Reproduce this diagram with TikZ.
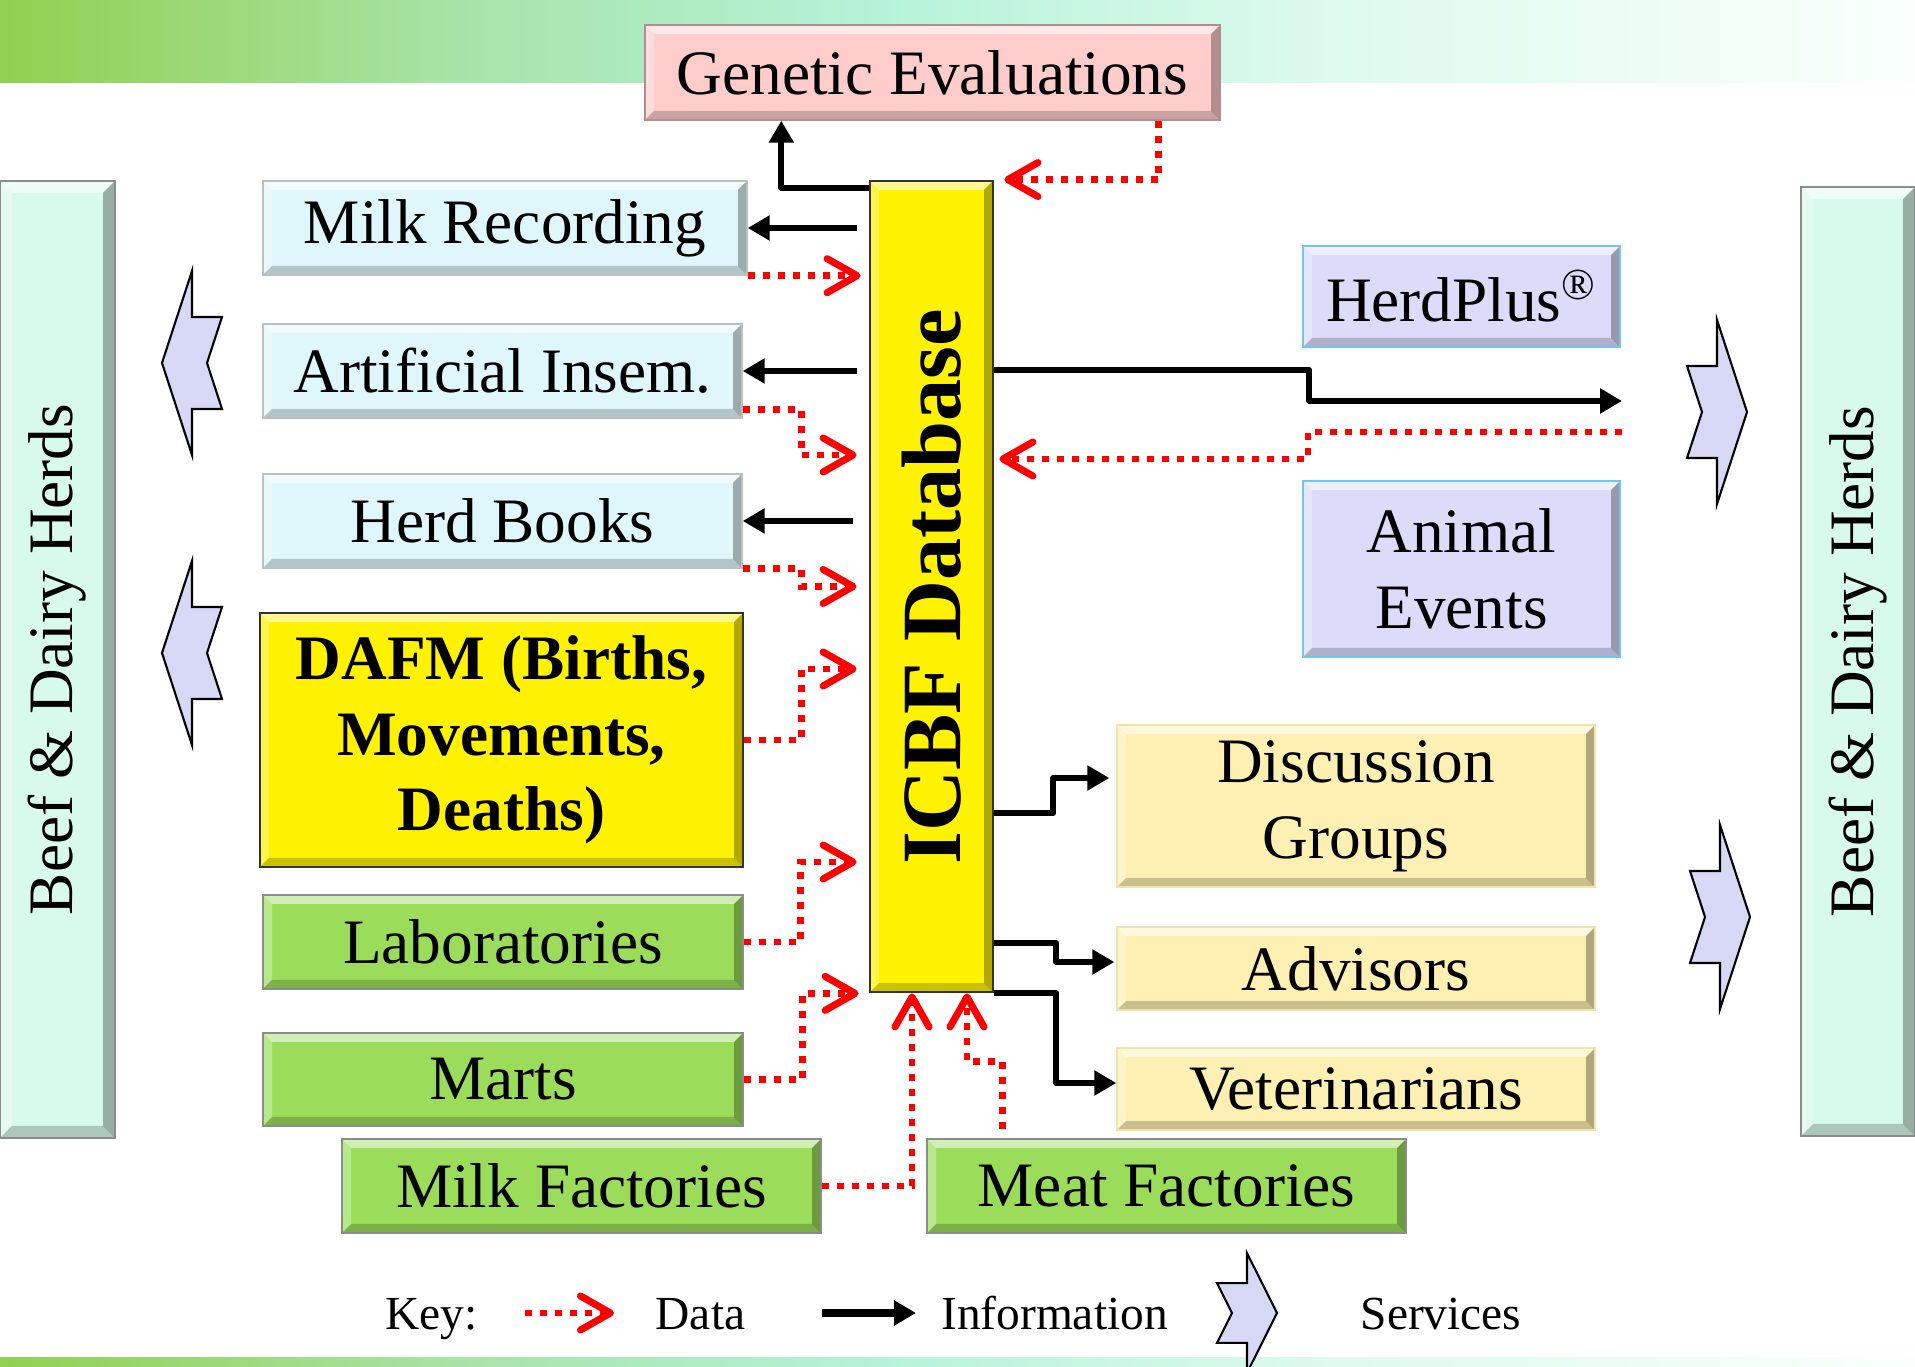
\documentclass[tikz,border=0pt]{standalone}
\usepackage{fontspec}
\setmainfont{Liberation Serif}
\usepackage{graphicx}
\usetikzlibrary{arrows.meta,positioning,calc}

\definecolor{cyanfill}{RGB}{223,247,251}
\definecolor{greenfill}{RGB}{155,221,90}
\definecolor{lavfill}{RGB}{220,220,250}
\definecolor{lavedge}{RGB}{110,200,235}
\definecolor{creamfill}{RGB}{253,240,178}
\definecolor{pinkfill}{RGB}{255,204,204}
\definecolor{herdfill}{RGB}{216,250,236}
\definecolor{chevfill}{RGB}{214,216,245}
\definecolor{bandgreen}{RGB}{146,208,80}
\definecolor{bandlight}{RGB}{168,228,170}
\definecolor{bandmint}{RGB}{180,242,216}
\definecolor{bandpale}{RGB}{222,250,236}
\definecolor{bandwhite}{RGB}{250,255,253}

% the path covers 25bp--75bp of the shading
\pgfdeclarehorizontalshading{band}{100bp}{color(0bp)=(bandgreen); color(25bp)=(bandgreen);
  color(37.5bp)=(bandlight); color(47.5bp)=(bandmint); color(60bp)=(bandpale);
  color(75bp)=(bandwhite); color(100bp)=(bandwhite)}

\tikzset{
  bevel/.style={path picture={
      \path (path picture bounding box.south west) coordinate (bvSW)
            (path picture bounding box.north east) coordinate (bvNE)
            (path picture bounding box.north west) coordinate (bvNW)
            (path picture bounding box.south east) coordinate (bvSE);
      \fill[white,opacity=0.55] (bvNW) -- (bvNE) -- ([shift={(-#1,-#1)}]bvNE) -- ([shift={(#1,-#1)}]bvNW) -- cycle;
      \fill[white,opacity=0.3] (bvNW) -- ([shift={(#1,-#1)}]bvNW) -- ([shift={(#1,#1)}]bvSW) -- (bvSW) -- cycle;
      \fill[black,opacity=0.2] (bvSW) -- (bvSE) -- ([shift={(-#1,#1)}]bvSE) -- ([shift={(#1,#1)}]bvSW) -- cycle;
      \fill[black,opacity=0.3] (bvSE) -- (bvNE) -- ([shift={(-#1,-#1)}]bvNE) -- ([shift={(-#1,#1)}]bvSE) -- cycle;
  }},
  bevel/.default=0.09,
  box/.style={rectangle, inner sep=0pt, align=center, font={\fontsize{18}{21.6}\selectfont}, bevel},
  cyanbox/.style={box, fill=cyanfill, draw=black!25},
  greenbox/.style={box, fill=greenfill, draw=black!45},
  yellowbox/.style={box, fill=yellow, draw=black!80, line width=0.8pt},
  lavbox/.style={box, fill=lavfill, draw=lavedge, line width=0.8pt},
  creambox/.style={box, fill=creamfill, draw=creamfill!95!black},
  pinkbox/.style={box, fill=pinkfill, draw=pinkfill!70!black},
  herdbox/.style={box, fill=herdfill, draw=black!45, bevel=0.12},
  info/.style={line width=0.06cm, line join=round, -{Triangle[length=0.22cm,width=0.24cm]}},
  data/.style={red, line width=0.065cm, dash pattern=on 0.07cm off 0.08cm,
    -{Straight Barb[length=0.3cm,width=0.34cm,line width=2pt,round]}},
  keytext/.style={font={\fontsize{13.5}{16}\selectfont}, anchor=base},
  chevron/.pic={
    \draw[fill=chevfill, line width=0.6pt]
      (0,0.92) -- (0.3,0) -- (0,-0.92) -- (0,-0.46) -- (-0.3,-0.46) -- (-0.15,0)
      -- (-0.3,0.46) -- (0,0.46) -- cycle;
  },
}

\begin{document}
\begin{tikzpicture}
    \useasboundingbox (0,0) rectangle (19.15,13.66);

    % bands
    \shade[shading=band] (0,12.83) rectangle (19.15,13.66);
    \shade[shading=band] (0,0) rectangle (19.15,0.09);

    % herds
    \node[herdbox, minimum width=1.15cm, minimum height=9.57cm] (herdsL) at (0.575,7.065) {\rotatebox{90}{Beef \& Dairy Herds}};
    \node[herdbox, minimum width=1.14cm, minimum height=9.49cm] (herdsR) at (18.58,7.045) {\rotatebox{90}{Beef \& Dairy Herds}};

    % services
    \pic[xscale=-1] at (1.92,10.03) {chevron};
    \pic[xscale=-1] at (1.92,7.13) {chevron};
    \pic at (17.17,9.54) {chevron};
    \pic at (17.20,4.49) {chevron};

    % database
    \node[yellowbox, minimum width=1.23cm, minimum height=8.11cm] (db) at (9.315,7.795)
        {\rotatebox{90}{\fontsize{24}{28}\selectfont\bfseries ICBF Database}};
    \node[pinkbox, minimum width=5.75cm, minimum height=0.95cm] (gen) at (9.325,12.935) {Genetic Evaluations};

    % sources
    \node[cyanbox, minimum width=4.84cm, minimum height=0.94cm] (milk) at (5.05,11.38) {Milk Recording};
    \node[cyanbox, minimum width=4.79cm, minimum height=0.94cm] (ai) at (5.025,9.95) {Artificial Insem.};
    \node[cyanbox, minimum width=4.79cm, minimum height=0.94cm] (hb) at (5.025,8.45) {Herd Books};
    \node[yellowbox, minimum width=4.83cm, minimum height=2.54cm, font={\fontsize{18}{21.4}\selectfont\bfseries}] (dafm) at (5.015,6.26)
        {DAFM (Births,\\Movements,\\Deaths)};
    \node[greenbox, minimum width=4.8cm, minimum height=0.94cm] (lab) at (5.03,4.24) {Laboratories};
    \node[greenbox, minimum width=4.8cm, minimum height=0.93cm] (marts) at (5.03,2.865) {Marts};
    \node[greenbox, minimum width=4.79cm, minimum height=0.94cm] (milkf) at (5.815,1.80) {Milk Factories};
    \node[greenbox, minimum width=4.79cm, minimum height=0.94cm] (meatf) at (11.665,1.80) {Meat Factories};

    % outputs
    \node[lavbox, minimum width=3.17cm, minimum height=1.01cm] (herdplus) at (14.615,10.695) {HerdPlus\textsuperscript{\textregistered}};
    \node[lavbox, minimum width=3.17cm, minimum height=1.76cm] (events) at (14.615,7.97) {Animal\\Events};
    \node[creambox, minimum width=4.78cm, minimum height=1.62cm] (disc) at (13.56,5.60) {Discussion\\Groups};
    \node[creambox, minimum width=4.78cm, minimum height=0.83cm] (adv) at (13.56,3.975) {Advisors};
    \node[creambox, minimum width=4.78cm, minimum height=0.82cm] (vet) at (13.56,2.77) {Veterinarians};

    \coordinate (toherds) at (16.22,9.65);
    \coordinate (fromherds) at (16.22,9.34);

    % information
    \draw[info] ([yshift=-0.08cm]db.north west) -| ([xshift=1.37cm]gen.south west);
    \draw[info] ($(milk.east -| db.west)+(-0.12,0)$) -- (milk.east);
    \draw[info] ($(ai.east -| db.west)+(-0.12,0)$) -- (ai.east);
    \draw[info] ($(hb.east -| db.west)+(-0.16,0)$) -- (hb.east);
    \draw[info] ([yshift=2.165cm]db.east) -- ++(3.15,0) |- (toherds);
    \draw[info] ([yshift=-2.265cm]db.east) -- ++(0.59,0) |- ([shift={(-0.07,0.28)}]disc.west);
    \draw[info] ([yshift=-3.565cm]db.east) -- ++(0.62,0) |- ([shift={(-0.02,0.065)}]adv.west);
    \draw[info] (db.south east) -- ++(0.62,0) |- ([yshift=0.06cm]vet.west);

    % data
    \draw[data] ([xshift=-0.62cm]gen.south east) |- ([xshift=0.1cm]db.north east);
    \draw[data] (milk.south east) -- ($(milk.south east -| db.west)+(-0.08,0)$);
    \draw[data] ([yshift=0.09cm]ai.south east) -- ++(0.59,0) |- ([shift={(-0.12,1.315)}]db.west);
    \draw[data] (hb.south east) -- ++(0.59,0) |- ([xshift=-0.12cm]db.west);
    \draw[data] (dafm.east) -- ++(0.57,0) |- ([shift={(-0.12,-0.825)}]db.west);
    \draw[data] (lab.east) -- ++(0.57,0) |- ([shift={(-0.12,-2.755)}]db.west);
    \draw[data] (marts.east) -- ++(0.59,0) |- ([xshift=-0.10cm]db.south west);
    \draw[data] (milkf.east) -| ([xshift=-0.195cm]db.south);
    \draw[data] ([shift={(0.76,0.09)}]meatf.north west) -- ++(0,0.68) -| ([xshift=0.355cm]db.south);
    \draw[data] (fromherds) -- ++(-3.14,0) |- ([shift={(0.05,1.275)}]db.east);

    % key
    \node[keytext] (key) at (4.315,0.37) {Key:};
    \coordinate (keyDa) at (5.25,0.53);
    \coordinate (keyDb) at (6.14,0.53);
    \draw[data] (keyDa) -- (keyDb);
    \node[keytext] (keydata) at (7.005,0.37) {Data};
    \coordinate (keyIa) at (8.22,0.53);
    \coordinate (keyIb) at (9.16,0.53);
    \draw[info, line width=0.075cm] (keyIa) -- (keyIb);
    \node[keytext] (keyinfo) at (10.545,0.37) {Information};
    \pic[yscale=0.65] at (12.47,0.53) {chevron};
    \node[keytext] (keyserv) at (14.41,0.37) {Services};
\end{tikzpicture}
\end{document}
